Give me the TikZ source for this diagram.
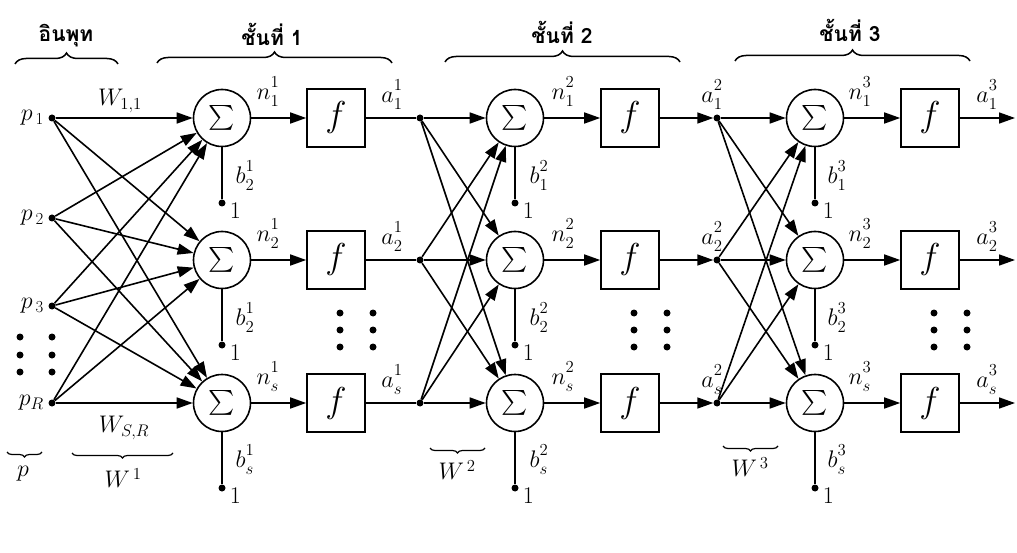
\RequirePackage{fix-cm}
\documentclass[tikz,border=0pt]{standalone}
\usepackage{amsmath}
\usepackage{fontspec}
\newfontfamily\thaifont[Script=Thai]{Loma}
\usetikzlibrary{arrows.meta,decorations.pathreplacing}

% label with stacked super- and subscript spread apart, e.g. \lab{n}{1}{2}
\newcommand{\lab}[3]{$#1^{\vphantom{g}#2}_{\vphantom{l}#3}$}

\begin{document}
\begin{tikzpicture}[x=1pt,y=1pt,
  wire/.style={line width=1.6pt},
  arr/.style={wire,-{Triangle[length=16pt,width=11pt]}},
  sumnode/.style={circle,draw,line width=1.6pt,minimum size=57pt,inner sep=0pt,
                  font=\fontsize{24}{24}\selectfont},
  fbox/.style={draw,line width=1.6pt,minimum size=58pt,inner sep=0pt,
               font=\fontsize{36}{36}\selectfont},
  junction/.style={circle,fill,inner sep=0pt,minimum size=7pt},
  vdot/.style={circle,fill,inner sep=0pt,minimum size=7pt},
  lbl/.style={font=\fontsize{24}{24}\selectfont,inner sep=0pt},
  one/.style={font=\fontsize{24}{24}\selectfont,inner sep=0pt,anchor=west},
  thai/.style={font=\fontsize{21}{21}\thaifont\bfseries,inner sep=1pt},
  topbrace/.style={decorate,decoration={brace,amplitude=11pt},line width=1.5pt},
  lowbrace/.style={decorate,decoration={brace,mirror,amplitude=5pt},line width=1.2pt}
]
\useasboundingbox (0,0) rectangle (1017,-553);

% ---------- inputs ----------
\node[junction] (p1) at (52,-118) {};
\node[junction] (p2) at (52,-218) {};
\node[junction] (p3) at (52,-306) {};
\node[junction] (pR) at (52,-403) {};
\node[lbl,anchor=east] (lp1) at (44,-118) {$p_{\,\mathrm{1}}$};
\node[lbl,anchor=east] (lp2) at (44,-218) {$p_{\,\mathrm{2}}$};
\node[lbl,anchor=east] (lp3) at (44,-306) {$p_{\,\mathrm{3}}$};
\node[lbl,anchor=east] (lpR) at (44,-403) {$p_{R}$};
\foreach \yy [count=\k] in {337,355,372}{
  \node[vdot] (iva\k) at (20,-\yy) {};
  \node[vdot] (ivb\k) at (52,-\yy) {};
}

% ---------- three layers ----------
\foreach \L/\sx/\fx in {1/222/336, 2/515/630, 3/815/930}{
  \foreach \yy/\r in {118/1,260/2,403/3}{
    \node[sumnode] (s\L\r) at (\sx,-\yy) {$\sum$};
    \node[fbox] (f\L\r) at (\fx,-\yy) {$f$};
    \coordinate (b\L\r) at (\sx,-\yy-85);
    \node[junction] (bd\L\r) at (b\L\r) {};
    \draw[wire] (s\L\r) -- (bd\L\r);
    \draw[arr] (s\L\r) -- (f\L\r);
  }
  % vertical ellipsis between second and third rows
  \foreach \yy [count=\k] in {313,330,347}{
    \node[vdot] (ea\L\k) at (\fx+4,-\yy) {};
    \node[vdot] (eb\L\k) at (\fx+37,-\yy) {};
  }
}

% junction points feeding layers 2 and 3, and outputs
\foreach \yy/\r in {118/1,260/2,403/3}{
  \node[junction] (j1\r) at (420,-\yy) {};
  \node[junction] (j2\r) at (717,-\yy) {};
  \coordinate (o\r) at (1015,-\yy);
  \draw[wire] (f1\r) -- (j1\r);
  \draw[arr] (f2\r) -- (j2\r);
  \draw[arr] (f3\r) -- (o\r);
}

% fully connected weights
\foreach \i in {p1,p2,p3,pR}{
  \foreach \r in {1,2,3}{ \draw[arr] (\i) -- (s1\r); }
}
\foreach \i in {1,2,3}{
  \foreach \r in {1,2,3}{
    \draw[arr] (j1\i) -- (s2\r);
    \draw[arr] (j2\i) -- (s3\r);
  }
}

% ---------- signal labels ----------
\node[lbl] (n11) at (268,-92)  {\lab{n}{1}{1}};
\node[lbl] (n12) at (268,-234) {\lab{n}{1}{2}};
\node[lbl] (n13) at (268,-377) {\lab{n}{1}{s}};
\node[lbl] (n21) at (563,-92)  {\lab{n}{2}{1}};
\node[lbl] (n22) at (563,-234) {\lab{n}{2}{2}};
\node[lbl] (n23) at (563,-377) {\lab{n}{2}{s}};
\node[lbl] (n31) at (860,-92)  {\lab{n}{3}{1}};
\node[lbl] (n32) at (860,-234) {\lab{n}{3}{2}};
\node[lbl] (n33) at (860,-377) {\lab{n}{3}{s}};

\node[lbl] (a11) at (392,-95)  {\lab{a}{1}{1}};
\node[lbl] (a12) at (392,-237) {\lab{a}{1}{2}};
\node[lbl] (a13) at (392,-380) {\lab{a}{1}{s}};
\node[lbl] (a21) at (712,-95)  {\lab{a}{2}{1}};
\node[lbl] (a22) at (712,-237) {\lab{a}{2}{2}};
\node[lbl] (a23) at (712,-380) {\lab{a}{2}{s}};
\node[lbl] (a31) at (987,-95)  {\lab{a}{3}{1}};
\node[lbl] (a32) at (987,-237) {\lab{a}{3}{2}};
\node[lbl] (a33) at (987,-380) {\lab{a}{3}{s}};

\node[lbl] (bl11) at (245,-176) {\lab{b}{1}{2}};
\node[lbl] (bl12) at (245,-318) {\lab{b}{1}{2}};
\node[lbl] (bl13) at (245,-460) {\lab{b}{1}{s}};
\node[lbl] (bl21) at (539,-176) {\lab{b}{2}{1}};
\node[lbl] (bl22) at (539,-318) {\lab{b}{2}{2}};
\node[lbl] (bl23) at (539,-460) {\lab{b}{2}{s}};
\node[lbl] (bl31) at (837,-176) {\lab{b}{3}{1}};
\node[lbl] (bl32) at (837,-318) {\lab{b}{3}{2}};
\node[lbl] (bl33) at (837,-460) {\lab{b}{3}{s}};

\foreach \L in {1,2,3}{
  \foreach \r in {1,2,3}{
    \node[one] (one\L\r) at ([xshift=4pt,yshift=-8pt]bd\L\r.east) {1};
  }
}

\node[lbl] (w11) at (120,-101) {$W_{1,1}$};
\node[lbl] (wsr) at (124,-428) {$W_{S,R}$};

% ---------- braces ----------
\draw[topbrace] (15,-64) -- (118,-64);
\node[thai] (tin) at (66,-36) {อินพุท};
\draw[topbrace] (157,-63) -- (392,-63);
\node[thai] (tl1) at (272,-34) {ชั้นที่ 1};
\draw[topbrace] (445,-62) -- (680,-62);
\node[thai] (tl2) at (562,-32) {ชั้นที่ 2};
\draw[topbrace] (735,-61) -- (970,-61);
\node[thai] (tl3) at (850,-30) {ชั้นที่ 3};

\draw[lowbrace] (7,-452) -- (42,-452);
\node[lbl] (bp) at (23,-474) {$p$};
\draw[lowbrace] (72,-453) -- (173,-453);
\node[lbl] (bw1) at (123,-478) {$W^{\,1}$};
\draw[lowbrace] (430,-448) -- (485,-448);
\node[lbl] (bw2) at (457,-470) {$W^{\,2}$};
\draw[lowbrace] (723,-446) -- (778,-446);
\node[lbl] (bw3) at (750,-467) {$W^{\,3}$};
\end{tikzpicture}
\end{document}
